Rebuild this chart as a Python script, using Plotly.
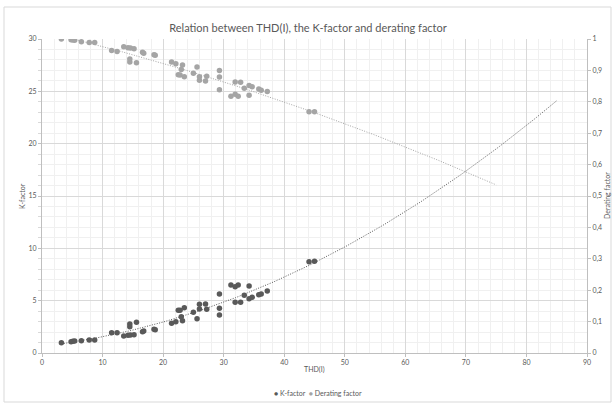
import numpy as np
import plotly.graph_objects as go

thd = [3.2, 4.8, 5.1, 5.4, 6.5, 7.8, 8.7, 11.5, 12.4, 13.5, 14.2, 14.6, 15.2, 14.5, 14.5,
       15.6, 16.6, 16.8, 18.5, 18.7, 21.4, 22.1, 23.2, 22.5, 22.8, 23.5, 23.0, 25.6, 25.0,
       26.0, 26.0, 27.0, 27.2, 29.3, 29.3, 29.3, 31.2, 31.9, 32.4, 31.9, 32.8, 33.4, 34.2,
       34.2, 34.7, 35.8, 36.2, 37.2, 44.1, 45.0]
k_factor = [0.99, 1.08, 1.12, 1.15, 1.18, 1.24, 1.24, 1.94, 1.94, 1.62, 1.69, 1.72, 1.75, 2.77, 2.51,
            2.93, 2.03, 2.10, 2.26, 2.23, 2.84, 2.99, 3.09, 4.08, 4.08, 4.33, 3.47, 3.28, 3.89,
            4.65, 4.20, 4.68, 4.17, 5.64, 4.27, 3.63, 6.49, 6.33, 6.49, 4.84, 4.84, 5.51, 6.40,
            5.19, 5.32, 5.57, 5.64, 5.92, 8.72, 8.76]
derating = [1.0, 0.998, 0.997, 0.996, 0.991, 0.989, 0.989, 0.963, 0.960, 0.975, 0.972, 0.971, 0.969, 0.927, 0.936,
            0.924, 0.958, 0.955, 0.950, 0.948, 0.927, 0.921, 0.917, 0.886, 0.885, 0.880, 0.903, 0.911, 0.891,
            0.869, 0.880, 0.866, 0.881, 0.838, 0.879, 0.900, 0.818, 0.824, 0.818, 0.863, 0.862, 0.843, 0.821,
            0.852, 0.848, 0.841, 0.837, 0.833, 0.768, 0.768]

x_ticks = list(range(0, 91, 10))
k_ticks = list(range(0, 31, 5))
d_ticks = [round(i * 0.1, 1) for i in range(11)]

K_COL = "#595959"
D_COL = "#a5a5a5"
TXT = "#595959"
FONT = "Lato"

# polynomial (order 2) trendlines, like Excel's
kc = np.polyfit(thd, k_factor, 2)
dc = np.polyfit(thd, derating, 2)
xk = np.linspace(min(thd), 85, 200)
xd = np.linspace(min(thd), 75, 200)

fig = go.Figure()
fig.add_trace(go.Scatter(x=thd, y=k_factor, mode="markers", name="K-factor",
                         marker=dict(color=K_COL, size=5.5)))
fig.add_trace(go.Scatter(x=thd, y=derating, mode="markers", name="Derating factor",
                         marker=dict(color=D_COL, size=5.5), yaxis="y2"))
fig.add_trace(go.Scatter(x=xk, y=np.polyval(kc, xk), mode="lines", showlegend=False,
                         line=dict(color=K_COL, width=1, dash="1px,1.5px"), hoverinfo="skip"))
fig.add_trace(go.Scatter(x=xd, y=np.polyval(dc, xd), mode="lines", showlegend=False,
                         line=dict(color=D_COL, width=1, dash="1px,1.5px"), hoverinfo="skip", yaxis="y2"))

axis_common = dict(tickfont=dict(size=7, color=TXT, family=FONT),
                   linecolor="#bfbfbf", linewidth=1, showline=True, automargin=False,
                   ticks="outside", ticklen=3, tickcolor="#bfbfbf", zeroline=False)

PL, PR, PT, PB = 42, 587, 39, 353
W, H = 616, 405
pw, ph = PR - PL, PB - PT

fig.update_layout(
    width=W, height=H,
    margin=dict(l=PL, r=W - PR, t=PT, b=H - PB, autoexpand=False),
    paper_bgcolor="white", plot_bgcolor="white",
    separators=", ",
    font=dict(family=FONT, color=TXT),
    showlegend=False,
    title=dict(text="Relation between THD(I), the K-factor and derating factor",
               x=0.5, xanchor="center", y=1 - 28 / H, yanchor="middle",
               font=dict(size=11, color=TXT, family=FONT)),
    xaxis=dict(range=[0, 90], tickvals=x_ticks,
               showgrid=True, gridcolor="#d9d9d9", gridwidth=1,
               minor=dict(dtick=2, showgrid=True, gridcolor="#f0f0f0", ticks=""),
               **axis_common),
    yaxis=dict(range=[0, 30], tickvals=k_ticks,
               showgrid=True, gridcolor="#d9d9d9", gridwidth=1,
               minor=dict(dtick=1, showgrid=True, gridcolor="#f0f0f0",
                          ticks="outside", ticklen=3, tickcolor="#d9d9d9"),
               **axis_common),
    yaxis2=dict(range=[0, 1], tickvals=d_ticks, overlaying="y", side="right",
                showgrid=False, **axis_common),
)

def px_x(p):
    return (p - PL) / pw

def px_y(p):
    return (PB - p) / ph

ann_font = dict(size=7, color=TXT, family=FONT)
ann_kw = dict(xref="paper", yref="paper", showarrow=False, font=ann_font,
              xanchor="center", yanchor="middle")
fig.add_annotation(text="THD(I)", x=px_x(314), y=px_y(369), **ann_kw)
fig.add_annotation(text="K-factor", x=px_x(22), y=px_y(196), textangle=-90, **ann_kw)
fig.add_annotation(text="Derating factor", x=px_x(607), y=px_y(196), textangle=-90, **ann_kw)
# legend row
fig.add_annotation(
    text=f'<span style="color:{K_COL}">●</span> K-factor  '
         f'<span style="color:{D_COL}">●</span> Derating factor',
    x=px_x(318), y=px_y(393), **ann_kw)

fig.add_shape(type="rect", xref="paper", yref="paper",
              x0=px_x(4), x1=px_x(611), y0=px_y(402), y1=px_y(7),
              line=dict(color="#d9d9d9", width=1), fillcolor="rgba(0,0,0,0)", layer="below")

fig.write_html("out.html", config={"displayModeBar": False},
               post_script="document.body.style.margin='0';document.body.style.overflow='hidden';")
